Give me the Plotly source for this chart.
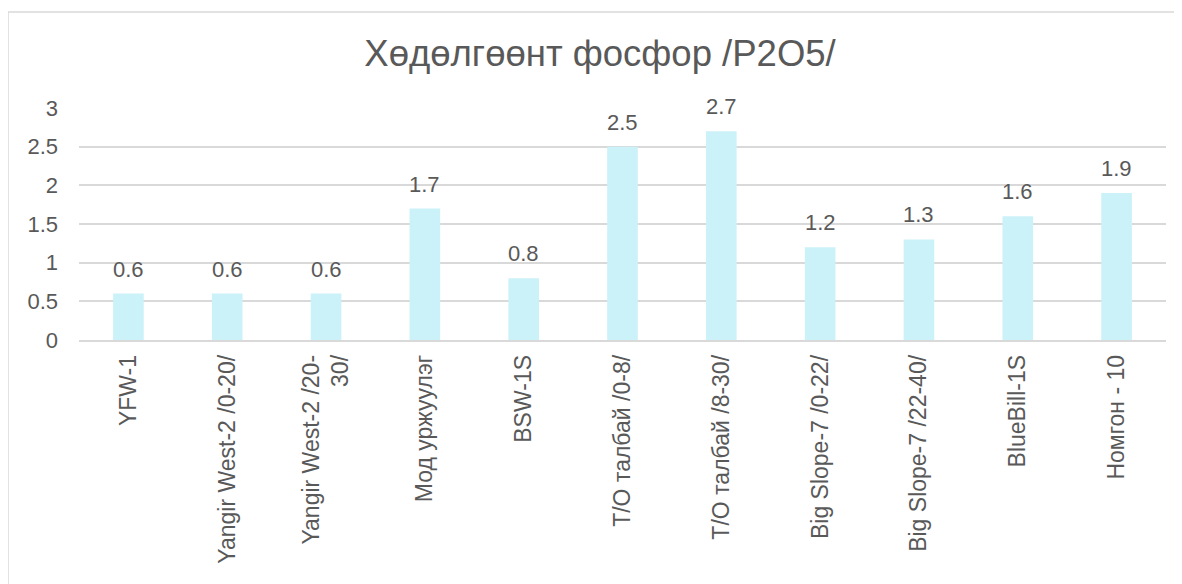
import plotly.graph_objects as go

categories = ["YFW-1", "Yangir West-2 /0-20/", "Yangir West-2 /20-<br>30/", "Мод уржуулэг",
              "BSW-1S", "T/O талбай /0-8/", "T/O талбай /8-30/", "Big Slope-7 /0-22/",
              "Big Slope-7 /22-40/", "BlueBill-1S", "Номгон - 10"]
values = [0.6, 0.6, 0.6, 1.7, 0.8, 2.5, 2.7, 1.2, 1.3, 1.6, 1.9]
y_ticks = [0, 0.5, 1, 1.5, 2, 2.5, 3]
title_text = "Хөдөлгөөнт фосфор /P2O5/"

gray = "#595959"
font_family = "Liberation Sans, Arial, sans-serif"

# page body has an 8px margin, so the figure is offset by (8, 8)
OFF = 8
W, H = 1182 - OFF, 584 - OFF
L, T = 79 - OFF, 108 - OFF
R = W - (1166 - OFF)
B = H - (340 - OFF)
pw, ph = W - L - R, H - T - B

fig = go.Figure()
fig.add_trace(go.Bar(
    x=categories, y=values,
    marker=dict(color="#CCF2F9", line=dict(width=0)),
    width=0.31,
    hoverinfo="x+y",
))

annotations = [dict(x=c, y=v, xref="x", yref="y", text=f"{v:g}", showarrow=False,
                    yanchor="bottom", yshift=10,
                    font=dict(size=22, color=gray, family=font_family))
               for c, v in zip(categories, values)]

fig.update_layout(
    width=W, height=H,
    margin=dict(l=L, r=R, t=T, b=B),
    paper_bgcolor="white", plot_bgcolor="white",
    font=dict(family=font_family, color=gray),
    title=dict(text=title_text, x=(600 - OFF - L) / pw, xref="paper", xanchor="center",
               y=1 - (53 - OFF) / H, yanchor="middle", font=dict(size=36.5, color=gray)),
    showlegend=False,
    xaxis=dict(tickangle=-90, tickfont=dict(size=23, color=gray), showline=True,
               linecolor="#D9D9D9", linewidth=1.5, ticks="", showgrid=False, ticklabelstandoff=4),
    yaxis=dict(range=[0, 3], tickvals=y_ticks, ticktext=[f"{v:g}" for v in y_ticks],
               tickfont=dict(size=22, color=gray), showgrid=True, gridcolor="#D9D9D9",
               gridwidth=1.5, zeroline=False, showline=False, ticks="", ticklabelstandoff=20),
    annotations=annotations,
    shapes=[dict(type="rect", xref="paper", yref="paper",
                 x0=(0 - L) / pw, x1=(W + 30 - L) / pw,
                 y0=-(B + 30) / ph, y1=(H - B - (12 - OFF)) / ph,
                 line=dict(color="#D9D9D9", width=1.5), fillcolor="rgba(0,0,0,0)", layer="below")],
)

fig.write_html("out.html")
